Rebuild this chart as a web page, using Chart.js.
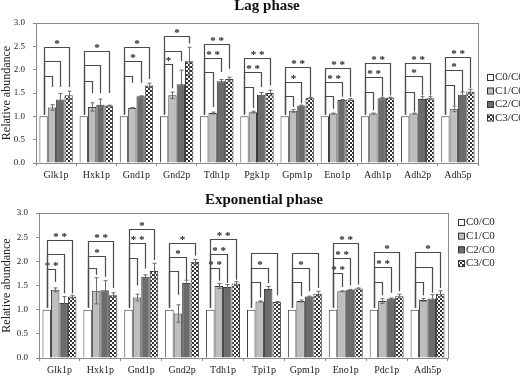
<!DOCTYPE html>
<html>
<head>
<meta charset="utf-8">
<script src="https://cdn.jsdelivr.net/npm/chart.js@4.4.1/dist/chart.umd.min.js"></script>
<style>
  html, body { margin: 0; padding: 0; background: #fff; }
  #wrap { position: relative; width: 520px; height: 376px; overflow: hidden; }
  .panel { position: absolute; left: 0; width: 520px; }
</style>
</head>
<body>
<div id="wrap">
  <div class="panel" style="top:0;height:186px"><canvas id="lagChart"></canvas></div>
  <div class="panel" style="top:186px;height:190px"><canvas id="expChart"></canvas></div>
</div>
<script>
const SERIF = "'Liberation Serif', 'Times New Roman', serif";
const seriesNames = ["C0/C0", "C1/C0", "C2/C0", "C3/C0"];

// Lag phase
const lagGenes = ["Glk1p", "Hxk1p", "Gnd1p", "Gnd2p", "Tdh1p", "Pgk1p", "Gpm1p", "Eno1p", "Adh1p", "Adh2p", "Adh5p"];
const lagC0 = [1, 1, 1, 1, 1, 1, 1, 1, 1, 1, 1];
const lagC1 = [1.19, 1.20, 1.18, 1.45, 1.07, 1.09, 1.12, 1.06, 1.06, 1.06, 1.16];
const lagC2 = [1.36, 1.25, 1.43, 1.69, 1.75, 1.46, 1.23, 1.35, 1.39, 1.37, 1.46];
const lagC3 = [1.45, 1.23, 1.66, 2.18, 1.80, 1.50, 1.40, 1.36, 1.40, 1.39, 1.53];
const lagErrC1 = [0.06, 0.09, 0.01, 0.07, 0.02, 0.02, 0.03, 0.01, 0.01, 0.01, 0.06];
const lagErrC2 = [0.13, 0.12, 0.01, 0.30, 0.04, 0.05, 0.01, 0.01, 0.01, 0.05, 0.06];
const lagErrC3 = [0.09, 0.01, 0.05, 0.30, 0.04, 0.06, 0.01, 0.02, 0.01, 0.03, 0.05];
// significance brackets C0->C1, C0->C2, C0->C3: bar height, right leg end, stars
const lagBracketTop = [[1.87, 2.18, 2.49], [1.76, 2.09, 2.39], [1.87, 2.18, 2.49], [2.13, 2.39, 2.72], [1.94, 2.24, 2.56], [1.63, 1.94, 2.26], [1.43, 1.74, 2.06], [1.43, 1.74, 2.04], [1.52, 1.85, 2.14], [1.52, 1.86, 2.14], [1.68, 1.99, 2.27]];
const lagBracketEnd = [[1.63, 1.63, 1.63], [1.5, 1.5, 1.5], [1.72, 1.72, 1.8], [1.6, 2.18, 2.56], [1.2, 1.95, 2.02], [1.18, 1.63, 1.66], [1.2, 1.28, 1.42], [1.16, 1.42, 1.42], [1.13, 1.42, 1.45], [1.1, 1.45, 1.45], [1.24, 1.52, 1.6]];
const lagStars = [["", "", "*"], ["", "", "*"], ["", "*", "*"], ["*", "", "*"], ["", "**", "**"], ["", "**", "**"], ["", "*", "**"], ["", "**", "**"], ["", "**", "**"], ["", "*", "**"], ["", "*", "**"]];

// Exponential phase
const expGenes = ["Glk1p", "Hxk1p", "Gnd1p", "Gnd2p", "Tdh1p", "Tpi1p", "Gpm1p", "Eno1p", "Pdc1p", "Adh5p"];
const expC0 = [1, 1, 1, 1, 1, 1, 1, 1, 1, 1];
const expC1 = [1.41, 1.39, 1.25, 0.92, 1.49, 1.17, 1.18, 1.38, 1.18, 1.20];
const expC2 = [1.14, 1.40, 1.68, 1.55, 1.47, 1.43, 1.27, 1.41, 1.23, 1.23];
const expC3 = [1.27, 1.30, 1.80, 1.99, 1.54, 1.16, 1.33, 1.44, 1.28, 1.33];
const expErrC1 = [0.04, 0.27, 0.07, 0.18, 0.05, 0.01, 0.02, 0.01, 0.05, 0.03];
const expErrC2 = [0.13, 0.20, 0.04, 0.06, 0.05, 0.05, 0.01, 0.01, 0.01, 0.08];
const expErrC3 = [0.03, 0.05, 0.16, 0.05, 0.04, 0.01, 0.05, 0.01, 0.04, 0.06];
const expBracketTop = [[1.84, 2.15, 2.44], [1.87, 2.12, 2.43], [2.06, 2.37, 2.67], [1.81, 2.10, 2.38], [1.86, 2.16, 2.47], [1.58, 1.87, 2.18], [1.58, 1.86, 2.17], [1.76, 2.06, 2.37], [1.58, 1.88, 2.19], [1.58, 1.88, 2.19]];
const expBracketEnd = [[1.58, 1.34, 1.34], [1.72, 1.68, 1.45], [1.5, 1.85, 2.03], [1.31, 1.62, 2.12], [1.6, 1.55, 1.62], [1.25, 1.55, 1.3], [1.28, 1.38, 1.45], [1.47, 1.5, 1.52], [1.3, 1.35, 1.38], [1.3, 1.35, 1.45]];
const expStars = [["**", "", "**"], ["", "*", "**"], ["", "**", "*"], ["", "*", "*"], ["**", "**", "**"], ["", "*", ""], ["", "*", ""], ["**", "**", "**"], ["", "**", "*"], ["", "", "*"]];

// checkerboard fill for the C3 bars
const checker = (() => {
    const c = document.createElement('canvas');
    c.width = 4; c.height = 4;
    const g = c.getContext('2d');
    g.fillStyle = '#ffffff'; g.fillRect(0, 0, 4, 4);
    g.fillStyle = '#333333'; g.fillRect(0, 0, 2, 2); g.fillRect(2, 2, 2, 2);
    return g.createPattern(c, 'repeat');
})();
const barFills = ['#ffffff', '#bebebe', '#6c6c6c', checker];

// error bars, significance brackets, frame, legend and title
const annotatePlugin = {
    id: 'annotate',
    afterDatasetsDraw(chart, args, opts) {
        const ctx = chart.ctx;
        const yScale = chart.scales.y;
        const area = chart.chartArea;
        const metas = [0, 1, 2, 3].map(i => chart.getDatasetMeta(i));
        ctx.save();

        // error bars
        ctx.strokeStyle = '#6a6a6a';
        ctx.lineWidth = 1;
        opts.errors.forEach((errs, k) => {
            const ds = chart.data.datasets[k + 1];
            errs.forEach((e, i) => {
                const bx = Math.round(metas[k + 1].data[i].x) + 0.5;
                const yt = yScale.getPixelForValue(ds.data[i] + e);
                const yb = yScale.getPixelForValue(ds.data[i] - e);
                ctx.beginPath();
                ctx.moveTo(bx, yb); ctx.lineTo(bx, yt);
                ctx.moveTo(bx - 2, yt); ctx.lineTo(bx + 2, yt);
                ctx.moveTo(bx - 2, yb); ctx.lineTo(bx + 2, yb);
                ctx.stroke();
            });
        });

        // brackets
        ctx.strokeStyle = '#4a4a4a';
        ctx.lineWidth = 1.2;
        ctx.fillStyle = '#222';
        ctx.font = 'bold 11px ' + SERIF;
        ctx.textAlign = 'center';
        ctx.textBaseline = 'alphabetic';
        const yStart = yScale.getPixelForValue(1.04);
        opts.levels.forEach((lv, i) => {
            const x0 = Math.round(metas[0].data[i].x) + 0.5;
            lv.forEach((h, j) => {
                const xt = Math.round(metas[j + 1].data[i].x) + 0.5;
                const yl = Math.round(yScale.getPixelForValue(h)) + 0.5;
                const ye = yScale.getPixelForValue(opts.ends[i][j]);
                ctx.beginPath();
                ctx.moveTo(x0, yStart); ctx.lineTo(x0, yl);
                ctx.lineTo(xt, yl); ctx.lineTo(xt, ye);
                ctx.stroke();
                const s = opts.stars[i][j];
                if (s) ctx.fillText(s.split('').join(' '), (x0 + xt) / 2, yl - 1);
            });
        });

        // plot frame
        ctx.strokeStyle = '#8a8a8a';
        ctx.lineWidth = 1;
        ctx.strokeRect(Math.round(area.left) + 0.5, Math.round(area.top) + 0.5,
            Math.round(area.right - area.left), Math.round(area.bottom - area.top));

        // legend
        ctx.font = '11px ' + SERIF;
        ctx.textAlign = 'left';
        ctx.textBaseline = 'middle';
        chart.data.datasets.forEach((ds, k) => {
            const ly = opts.legendY + k * opts.legendGap;
            ctx.fillStyle = ds.backgroundColor;
            ctx.fillRect(opts.legendX, ly - 3, 6, 6);
            ctx.strokeStyle = '#333';
            ctx.strokeRect(opts.legendX + 0.5, ly - 2.5, 6, 6);
            ctx.fillStyle = '#222';
            ctx.fillText(ds.label, opts.legendX + 8, ly + 0.5);
        });

        // title
        ctx.font = 'bold 15px ' + SERIF;
        ctx.textAlign = 'center';
        ctx.textBaseline = 'alphabetic';
        ctx.fillStyle = '#111';
        ctx.fillText(opts.title, opts.titleX, opts.titleY);
        ctx.restore();
    }
};

const makeChart = (id, genes, values, errors, levels, ends, stars, look) => {
    const ctx = document.getElementById(id).getContext('2d');
    return new Chart(ctx, {
        type: 'bar',
        data: {
            labels: genes,
            datasets: values.map((v, k) => ({
                label: seriesNames[k],
                data: v,
                backgroundColor: barFills[k],
                borderColor: '#3c3c3c',
                borderWidth: 1,
                barPercentage: 1.0,
                categoryPercentage: 0.83
            }))
        },
        options: {
            responsive: true,
            maintainAspectRatio: false,
            animation: false,
            layout: { padding: look.padding },
            plugins: {
                legend: { display: false },
                tooltip: { enabled: false },
                annotate: Object.assign({ errors, levels, ends, stars }, look.annot)
            },
            scales: {
                x: {
                    grid: { drawOnChartArea: false, offset: true, tickLength: 3, color: '#8a8a8a' },
                    border: { color: '#8a8a8a' },
                    ticks: { font: { family: SERIF, size: 10 }, color: '#222', padding: 3, maxRotation: 0 },
                    afterFit: s => { s.height = look.xHeight; }
                },
                y: {
                    min: 0,
                    max: 3,
                    grid: { drawOnChartArea: false, tickLength: 3, color: '#8a8a8a' },
                    border: { color: '#8a8a8a' },
                    ticks: {
                        stepSize: 0.5,
                        callback: v => v.toFixed(1),
                        font: { family: SERIF, size: 9 },
                        color: '#222',
                        padding: 8
                    },
                    title: {
                        display: true,
                        text: 'Relative abundance',
                        font: { family: SERIF, size: 12 },
                        color: '#222',
                        padding: 0
                    },
                    afterFit: s => { s.width = look.yWidth; }
                }
            }
        },
        plugins: [annotatePlugin]
    });
};

makeChart('lagChart', lagGenes, [lagC0, lagC1, lagC2, lagC3], [lagErrC1, lagErrC2, lagErrC3],
    lagBracketTop, lagBracketEnd, lagStars, {
        padding: { top: 23, right: 42, bottom: 0, left: 0 },
        xHeight: 23,
        yWidth: 36,
        annot: { title: 'Lag phase', titleX: 267, titleY: 10, legendX: 487, legendY: 77, legendGap: 13.5 }
    });

makeChart('expChart', expGenes, [expC0, expC1, expC2, expC3], [expErrC1, expErrC2, expErrC3],
    expBracketTop, expBracketEnd, expStars, {
        padding: { top: 27, right: 72, bottom: 0, left: 0 },
        xHeight: 18,
        yWidth: 39,
        annot: { title: 'Exponential phase', titleX: 264, titleY: 18, legendX: 458, legendY: 36, legendGap: 13.7 }
    });
</script>
</body>
</html>
